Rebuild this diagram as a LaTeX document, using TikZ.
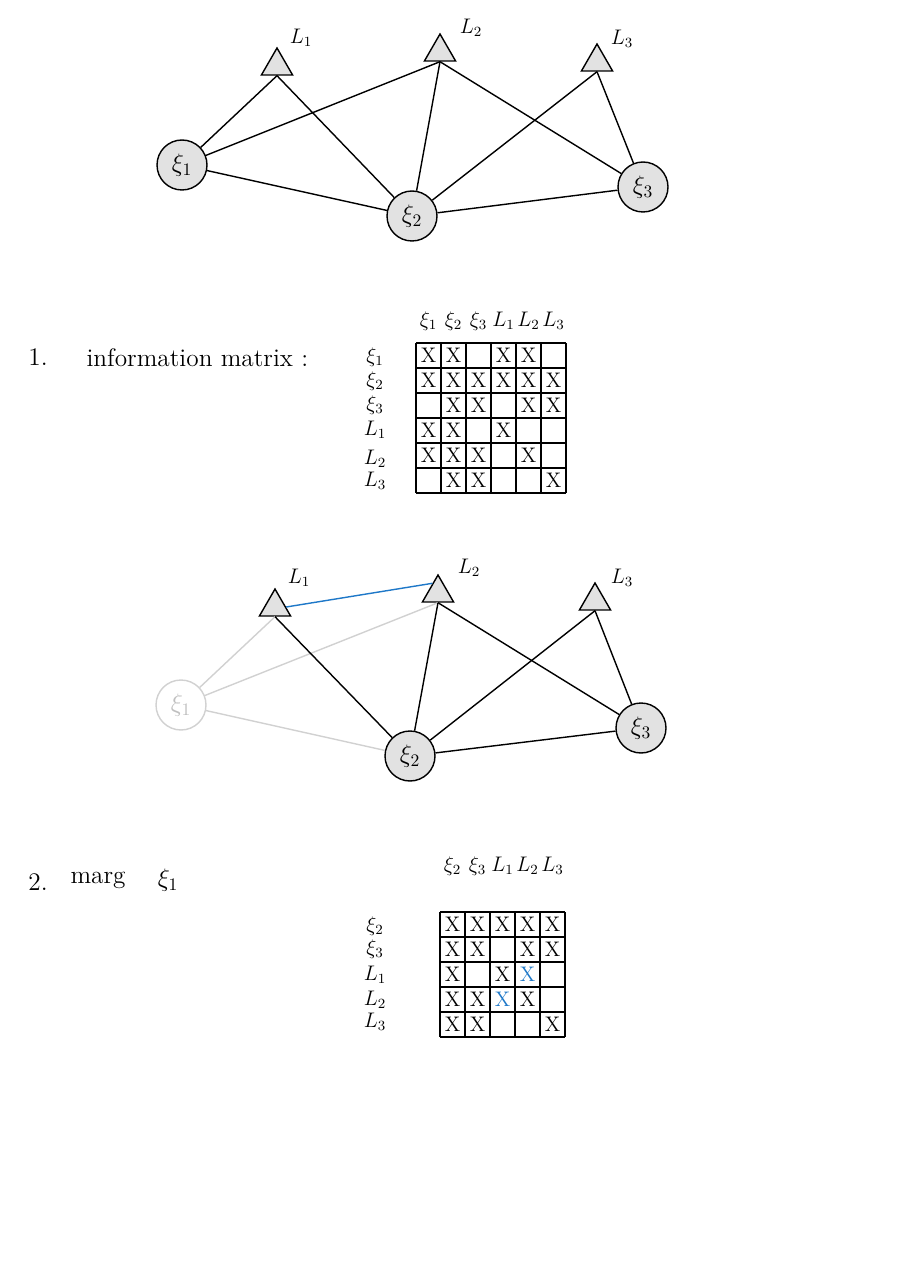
\documentclass[tikz,border=0pt]{standalone}
\usepackage{tikz}
\usepackage{amsmath}
\usepackage{amssymb}
\usepackage{xcolor}
\usetikzlibrary{shapes.geometric}

\definecolor{lineblue}{RGB}{30,120,200}
\definecolor{nodegray}{RGB}{226,226,226}

\begin{document}
\begin{tikzpicture}[x=0.02cm,y=-0.02cm,line width=0.8pt,
    pose/.style={circle,draw,fill=nodegray,minimum size=1cm,inner sep=0pt,font=\Large},
    lmk/.style={regular polygon,regular polygon sides=3,draw,fill=nodegray,minimum size=0.72cm,inner sep=0pt},
    faded/.style={draw=black!18,text=black!25,fill=white},
    cross/.style={inner sep=0pt,font=\large},
    lbl/.style={inner sep=1pt,font=\large}]
    \useasboundingbox (0,0) rectangle (905,1280);

    % first graph
    \node (x1) at (182,165) [pose] {$\xi_1$};
    \node (x2) at (412,216) [pose] {$\xi_2$};
    \node (x3) at (643,187) [pose] {$\xi_3$};
    \node (l1) at (277,66) [lmk] {};
    \node (l2) at (440,52) [lmk] {};
    \node (l3) at (597,62) [lmk] {};
    \node (t1) at (301,38) [lbl] {$L_1$};
    \node (t2) at (471,28) [lbl] {$L_2$};
    \node (t3) at (622,39) [lbl] {$L_3$};
    \draw (x1) -- (l1.south);
    \draw (x1) -- (l2.south);
    \draw (x1) -- (x2);
    \draw (l1.south) -- (x2);
    \draw (l2.south) -- (x2);
    \draw (l2.south) -- (x3);
    \draw (l3.south) -- (x2);
    \draw (l3.south) -- (x3);
    \draw (x2) -- (x3);

    % information matrix
    \node (n1) at (38,357) {\Large 1.};
    \node[anchor=west] (info) at (80,358) {\Large information matrix :};
    \foreach \i in {0,...,6} {
        \draw (416+25*\i,343) -- (416+25*\i,493);
        \draw (416,343+25*\i) -- (566,343+25*\i);
    }
    \foreach \c/\t in {1/\xi_1,2/\xi_2,3/\xi_3,4/L_1,5/L_2,6/L_3}
        \node[lbl] (ca\c) at (403.5+25*\c,321) {$\t$};
    \foreach \r/\y/\t in {1/357/\xi_1,2/381/\xi_2,3/405/\xi_3,4/430/L_1,5/459/L_2,6/481/L_3}
        \node[lbl] (ra\r) at (375,\y) {$\t$};
    \foreach \r/\c in {1/1,1/2,1/4,1/5,2/1,2/2,2/3,2/4,2/5,2/6,3/2,3/3,3/5,3/6,
                       4/1,4/2,4/4,5/1,5/2,5/3,5/5,6/2,6/3,6/6}
        \node[cross] (a\r\c) at (403.5+25*\c,330.5+25*\r) {X};

    % second graph
    \node (y1) at (181,705) [pose,faded] {$\xi_1$};
    \node (y2) at (410,756) [pose] {$\xi_2$};
    \node (y3) at (641,728) [pose] {$\xi_3$};
    \node (k1) at (275,607) [lmk] {};
    \node (k2) at (438,593) [lmk] {};
    \node (k3) at (595,601) [lmk] {};
    \node (s1) at (299,578) [lbl] {$L_1$};
    \node (s2) at (469,568) [lbl] {$L_2$};
    \node (s3) at (622,578) [lbl] {$L_3$};
    \draw[black!18] (y1) -- (k1.south);
    \draw[black!18] (y1) -- (k2.south);
    \draw[black!18] (y1) -- (y2);
    \draw (k1.south) -- (y2);
    \draw (k2.south) -- (y2);
    \draw (k2.south) -- (y3);
    \draw (k3.south) -- (y2);
    \draw (k3.south) -- (y3);
    \draw (y2) -- (y3);
    \draw[lineblue] (k1.0) -- (k2.120);

    % marginalised matrix
    \node (n2) at (38,882) {\Large 2.};
    \node[anchor=west] (marg) at (64,880) {\Large marg};
    \node (mx) at (168,880) {\Large $\xi_1$};
    \foreach \i in {0,...,5} {
        \draw (440+25*\i,912) -- (440+25*\i,1037);
        \draw (440,912+25*\i) -- (565,912+25*\i);
    }
    \foreach \c/\t in {1/\xi_2,2/\xi_3,3/L_1,4/L_2,5/L_3}
        \node[lbl] (cb\c) at (427.5+25*\c,866) {$\t$};
    \foreach \r/\y/\t in {1/926/\xi_2,2/949/\xi_3,3/975/L_1,4/1000/L_2,5/1022/L_3}
        \node[lbl] (rb\r) at (375,\y) {$\t$};
    \foreach \r/\c in {1/1,1/2,1/3,1/4,1/5,2/1,2/2,2/4,2/5,3/1,3/3,
                       4/1,4/2,4/4,5/1,5/2,5/5}
        \node[cross] (b\r\c) at (427.5+25*\c,899.5+25*\r) {X};
    \node[cross,text=lineblue] (b34) at (527.5,974.5) {X};
    \node[cross,text=lineblue] (b43) at (502.5,999.5) {X};

\end{tikzpicture}
\end{document}
